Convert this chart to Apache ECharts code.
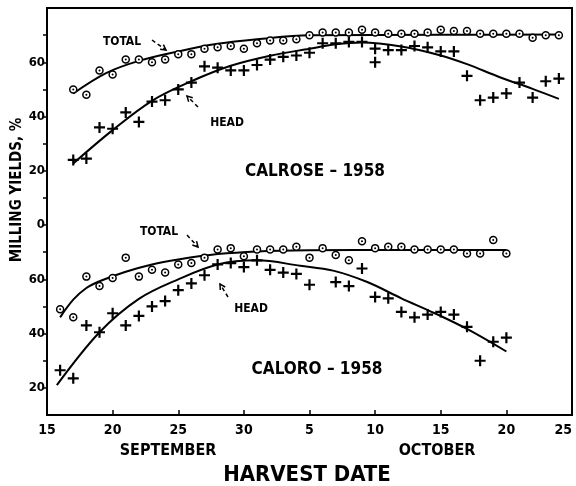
<!DOCTYPE html>
<html><head><meta charset="utf-8">
<script src="https://cdn.jsdelivr.net/npm/echarts@6/dist/echarts.min.js"></script>
<style>html,body{margin:0;padding:0;background:#fff}#c{width:576px;height:486px}</style>
</head><body><div id="c"></div>
<script>
// x values: day counted from 1 September (October d => 30 + d)
const xTickValues = [15, 20, 25, 30, 35, 40, 45, 50, 55];
const xTickLabels = ['15', '20', '25', '30', '5', '10', '15', '20', '25'];
// y axis: combined offset scale (CALROSE panel drawn 80 units higher)
const yTickValues = [20, 40, 60, 80, 100, 120, 140];
const yTickLabels = ['20', '40', '60', '0', '20', '40', '60'];
const calroseOffset = 80;

// CALROSE - 1958
const calroseTotalDays = [17,18,19,20,21,22,23,24,25,26,27,28,29,30,31,32,33,34,35,36,37,38,39,40,41,42,43,44,45,46,47,48,49,50,51,52,53,54];
const calroseTotal = [50,48,57,55.5,61,61,60,61,63,63,65,65.5,66,65,67,68,68,68.5,70,71,71,71,72,71,70.5,70.5,70.5,71,72,71.5,71.5,70.5,70.5,70.5,70.5,69,70,70];
const calroseHeadDays = [17,18,19,20,21,22,23,24,25,26,27,28,29,30,31,32,33,34,35,36,37,38,39,40,40,41,42,43,44,45,46,47,48,49,50,51,52,53,54];
const calroseHead = [24,24.5,36,35.5,41.5,38,45.5,46,50,52.5,58.5,58,57,57,59,61,62,62.5,63.5,67,67,67.5,67.5,65,60,64.5,64.5,66,65.5,64,64,55,46,47,48.5,52.5,47,53,54];
const calroseTotalCurveDays = [17,19.5,22,25,28,31,35,45,54];
const calroseTotalCurve = [48.5,56,60.5,64,66.8,68.5,70,70.1,70.2];
const calroseHeadCurveDays = [17,20,23,26,29,32,35,37,39,42,45,47,49.5,52,54];
const calroseHeadCurve = [22.7,35,45.8,53,58.7,62.4,65,66.6,67.3,65.8,62.5,59.3,54.5,50.2,46.5];

// CALORO - 1958
const caloroTotalDays = [16,17,18,19,20,21,22,23,24,25,26,27,28,29,30,31,32,33,34,35,36,37,38,39,40,41,42,43,44,45,46,47,48,49,50];
const caloroTotal = [49,46,61,57.5,60.5,68,61,63.5,62.5,65.5,66,68,71,71.5,68.5,71,71,71,72,68,71.5,69,67,74,71.5,72,72,71,71,71,71,69.5,69.5,74.5,69.5];
const caloroHeadDays = [16,17,18,19,20,21,22,23,24,25,26,27,28,29,30,31,32,33,34,35,37,38,39,40,41,42,43,44,45,46,47,48,49,50];
const caloroHead = [26.5,23.5,43,40.5,47.5,43,46.5,50,52,56,58.5,61.5,65.5,66,64.5,67,63.5,62.5,62,58,59,57.5,64,53.5,53,48,46,47,48,47,42.5,30,37,38.5];
const caloroTotalCurveDays = [16,17,18,19,21,23,25,28,31,35,42,50];
const caloroTotalCurve = [46,52.5,56.8,59.3,62.8,65.5,67.3,69.3,70.3,70.7,70.8,70.8];
const caloroHeadCurveDays = [15.75,19,22,25,28,31,34.3,36.8,39.4,42,44.5,47,50];
const caloroHeadCurve = [21,40.5,52.8,60,65.5,67,65,63.2,59,53,47.6,41.7,33.4];

const FONT = "'DejaVu Sans Condensed', 'Liberation Sans Narrow', 'Liberation Sans', sans-serif";
const pairs = (xs, ys, off) => xs.map((x, i) => [x, ys[i] + off]);
const PLUS = 'path://M4,0H6V4H10V6H6V10H4V6H0V4H4Z';

function curve(xs, ys, off) {
  return { type: 'line', data: pairs(xs, ys, off), smooth: 0.35, showSymbol: false,
    lineStyle: { color: '#000', width: 2 }, z: 2, silent: true };
}
function circles(xs, ys, off) {
  return [
    { type: 'scatter', data: pairs(xs, ys, off), symbol: 'circle', symbolSize: 7,
      itemStyle: { color: '#fff', borderColor: '#000', borderWidth: 1.5, opacity: 1 }, z: 3 },
    { type: 'scatter', data: pairs(xs, ys, off), symbol: 'circle', symbolSize: 2,
      itemStyle: { color: '#000', opacity: 1 }, z: 4 }
  ];
}
function pluses(xs, ys, off) {
  return { type: 'scatter', data: pairs(xs, ys, off), symbol: PLUS, symbolSize: 11,
    itemStyle: { color: '#000', opacity: 1 }, z: 3 };
}
function txt(s, x, y, size, extra) {
  return Object.assign({ type: 'text', x: x, y: y, style: { text: s, fill: '#000', font: 'bold ' + size + 'px ' + FONT,
    textAlign: 'center', textVerticalAlign: 'middle' } }, extra || {});
}
function arrow(x0, y0, x1, y1) {
  const a = Math.atan2(y1 - y0, x1 - x0), L = 6, s = 0.5;
  return [
    { type: 'line', shape: { x1: x0, y1: y0, x2: x1, y2: y1 }, style: { stroke: '#000', lineWidth: 1.5, lineDash: [4, 3] } },
    { type: 'polyline', shape: { points: [
      [x1 - L * Math.cos(a - s), y1 - L * Math.sin(a - s)], [x1, y1],
      [x1 - L * Math.cos(a + s), y1 - L * Math.sin(a + s)]] }, style: { stroke: '#000', lineWidth: 1.5, fill: null } }
  ];
}

const chart = echarts.init(document.getElementById('c'), null, { renderer: 'canvas' });
chart.setOption({
  animation: false,
  backgroundColor: '#fff',
  grid: { left: 47, right: 4, top: 8, bottom: 71, show: true, borderColor: '#000', borderWidth: 2,
    containLabel: false, outerBoundsMode: 'none' },
  xAxis: {
    type: 'value', min: 15, max: 55, interval: 5,
    axisLine: { show: true, onZero: false, lineStyle: { color: '#000', width: 2 } },
    axisTick: { show: true, inside: true, length: 5, lineStyle: { color: '#000', width: 1.5 } },
    splitLine: { show: false },
    axisLabel: { color: '#000', fontSize: 14, fontWeight: 'bold', fontFamily: FONT, margin: 8,
      alignMaxLabel: 'right', showMaxLabel: true, showMinLabel: true,
      formatter: v => { const i = xTickValues.indexOf(v); return i >= 0 ? xTickLabels[i] : ''; } }
  },
  yAxis: {
    type: 'value', min: 10, max: 160, interval: 10,
    axisLine: { show: true, onZero: false, lineStyle: { color: '#000', width: 2 } },
    axisTick: { show: true, inside: false, length: 4, lineStyle: { color: '#000', width: 1.5 } },
    splitLine: { show: false },
    axisLabel: { color: '#000', fontSize: 13, fontWeight: 'bold', fontFamily: FONT, margin: 2,
      showMaxLabel: false, showMinLabel: false,
      formatter: v => { const i = yTickValues.indexOf(v); return i >= 0 ? yTickLabels[i] : ''; } }
  },
  series: [
    curve(calroseTotalCurveDays, calroseTotalCurve, calroseOffset),
    curve(calroseHeadCurveDays, calroseHeadCurve, calroseOffset),
    curve(caloroTotalCurveDays, caloroTotalCurve, 0),
    curve(caloroHeadCurveDays, caloroHeadCurve, 0),
    ...circles(calroseTotalDays, calroseTotal, calroseOffset),
    pluses(calroseHeadDays, calroseHead, calroseOffset),
    ...circles(caloroTotalDays, caloroTotal, 0),
    pluses(caloroHeadDays, caloroHead, 0)
  ],
  graphic: [
    txt('MILLING YIELDS, %', 17, 190, 15, { rotation: Math.PI / 2 }),
    txt('SEPTEMBER', 168, 451, 16),
    txt('OCTOBER', 437, 451, 16),
    txt('HARVEST DATE', 307, 475, 22),
    txt('TOTAL', 122, 42, 12),
    txt('HEAD', 227, 123, 12),
    txt('CALROSE – 1958', 315, 172, 17),
    txt('TOTAL', 159, 232, 12),
    txt('HEAD', 251, 309, 12),
    txt('CALORO – 1958', 317, 370, 17),
    ...arrow(152, 40, 166, 50),
    ...arrow(198, 107, 187, 96),
    ...arrow(187, 235, 198, 247),
    ...arrow(228, 297, 220, 284)
  ]
});
</script></body></html>
